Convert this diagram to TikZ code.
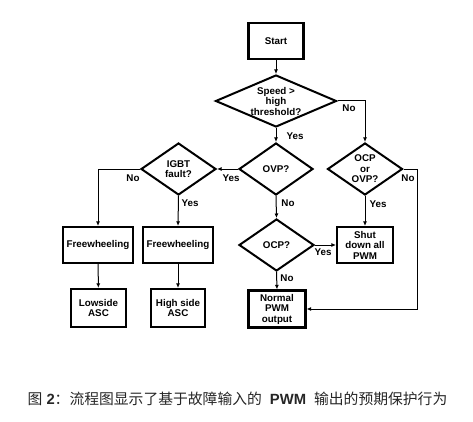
\documentclass[tikz,border=0pt]{standalone}
\usepackage{fontspec}
\setmainfont{Liberation Sans}
\newfontfamily\cjk{Noto Sans CJK SC}
\usetikzlibrary{shapes.geometric,arrows.meta}
\tikzset{
  lbl/.style={font=\bfseries\fontsize{9.8}{10.5}\selectfont, inner sep=0pt},
  boxnode/.style={draw, line width=2.2pt, align=center, inner sep=0pt,
    font=\bfseries\fontsize{9.8}{10.5}\selectfont},
  dianode/.style={draw, diamond, line width=2pt, align=center, inner sep=0pt,
    font=\bfseries\fontsize{9.8}{10.5}\selectfont},
  arr/.style={line width=1pt, -{Latex[length=4.5pt,width=4pt]}},
  plain/.style={line width=1pt},
}
\begin{document}
\begin{tikzpicture}[x=1pt,y=-1pt]
\useasboundingbox (0,0) rectangle (473,422);
% nodes
\node[boxnode, minimum width=55pt, minimum height=36pt] (start) at (276,41) {Start};
\node[dianode, minimum width=121pt, minimum height=52pt, aspect=2.33] (speed) at (276,101) {Speed >\\high\\threshold?};
\node[dianode, minimum width=75pt, minimum height=52pt, aspect=1.44] (ocpovp) at (365,169) {OCP\\or\\OVP?};
\node[dianode, minimum width=74pt, minimum height=52pt, aspect=1.42] (ovp) at (276,169) {OVP?};
\node[dianode, minimum width=75pt, minimum height=52pt, aspect=1.44] (igbt) at (178.5,169) {IGBT\\fault?};
\node[boxnode, minimum width=70pt, minimum height=36pt] (fw1) at (98,245) {Freewheeling};
\node[boxnode, minimum width=70pt, minimum height=36pt] (fw2) at (178,245) {Freewheeling};
\node[boxnode, minimum width=55pt, minimum height=38pt] (low) at (98.5,308) {Lowside\\ASC};
\node[boxnode, minimum width=54pt, minimum height=38pt] (high) at (178,308) {High side\\ASC};
\node[dianode, minimum width=75pt, minimum height=52pt, aspect=1.44] (ocp) at (276.5,245) {OCP?};
\node[boxnode, minimum width=56pt, minimum height=36pt] (shut) at (365,245) {Shut\\down all\\PWM};
\node[boxnode, minimum width=57pt, minimum height=37pt] (normal) at (277,309) {Normal\\PWM\\output};
\coordinate (c1) at (417,169);
% connectors
\draw[arr] (start) -- (speed);
\draw[arr] (speed) -- (ovp);
\draw[arr] (speed.east) -| (ocpovp.north);
\draw[arr] (ovp.west) -- (igbt.east);
\draw[arr] (igbt.west) -| (fw1.north);
\draw[arr] (igbt.south) -- (fw2.north);
\draw[arr] (ovp.south) -- (ocp.north);
\draw[arr] (ocpovp.south) -- (shut.north);
\draw[plain] (ocpovp.east) -- (c1);
\draw[arr] (c1) |- (normal.east);
\draw[arr] (ocp.east) -- (shut.west);
\draw[arr] (ocp.south) -- (normal.north);
\draw[arr] (fw1) -- (low);
\draw[arr] (fw2) -- (high);
% labels
\node[lbl] (l1) at (295,136) {Yes};
\node[lbl] (l2) at (349,108) {No};
\node[lbl] (l3) at (231,178) {Yes};
\node[lbl] (l4) at (133,178) {No};
\node[lbl] (l5) at (190,203) {Yes};
\node[lbl] (l6) at (288,203) {No};
\node[lbl] (l7) at (378,204) {Yes};
\node[lbl] (l8) at (408,178) {No};
\node[lbl] (l9) at (323,252) {Yes};
\node[lbl] (l10) at (287,278) {No};
% caption
\node[anchor=west, inner sep=0pt, text=black!85, font=\fontsize{14.8}{16}\selectfont] (cap) at (27.5,399)
  {{\cjk 图}\hspace{4pt}\textbf{2}{\cjk ：流程图显示了基于故障输入的}\hspace{8pt}\textbf{PWM}\hspace{8pt}{\cjk 输出的预期保护行为}};
\end{tikzpicture}
\end{document}
